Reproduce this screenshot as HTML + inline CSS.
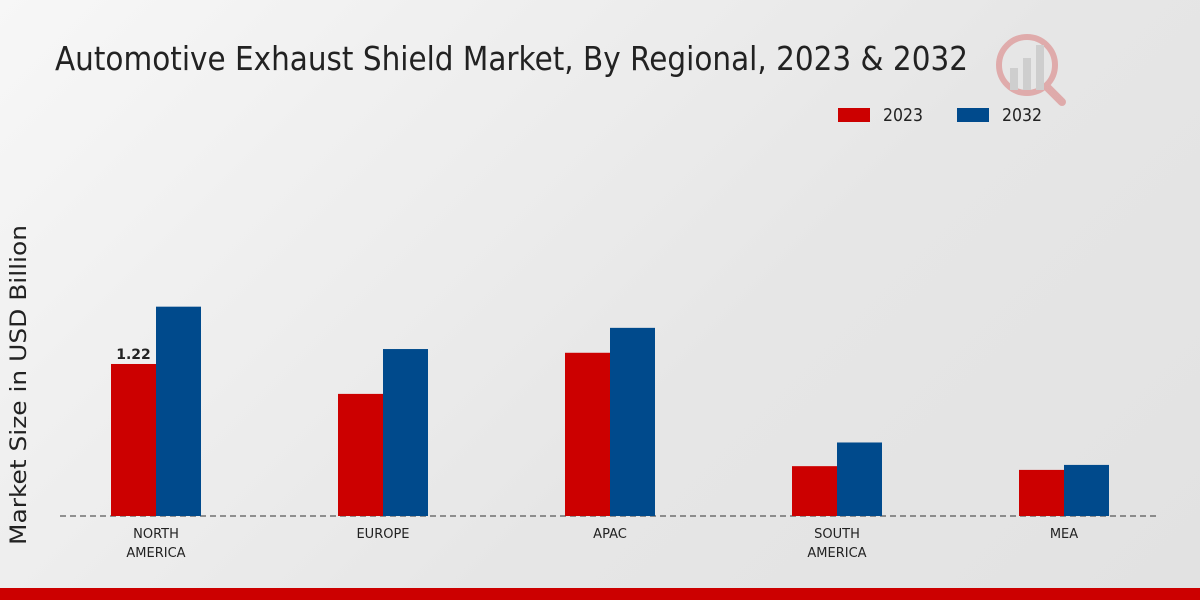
<!DOCTYPE html>
<html><head><meta charset="utf-8"><style>
html,body{margin:0;padding:0;width:1200px;height:600px;overflow:hidden}
body{background:linear-gradient(135deg,#f7f7f7 0%,#e6e6e6 60%,#e2e2e2 100%);font-family:"DejaVu Sans","Liberation Sans",sans-serif}
</style></head><body>
<svg width="1200" height="600" xmlns="http://www.w3.org/2000/svg">
<text x="55" y="70" font-size="33" fill="#222" textLength="913" lengthAdjust="spacingAndGlyphs">Automotive Exhaust Shield Market, By Regional, 2023 &amp; 2032</text>
<g opacity="0.25">
<circle cx="1027" cy="65" r="28" fill="none" stroke="#c00" stroke-width="6"/>
<rect x="1010" y="68" width="8" height="22" fill="#888"/><rect x="1023" y="58" width="8" height="32" fill="#888"/><rect x="1036" y="45" width="8" height="45" fill="#888"/>
<line x1="1048" y1="88" x2="1062" y2="102" stroke="#c00" stroke-width="8" stroke-linecap="round"/>
</g>
<g>
<rect x="838" y="108" width="32" height="14" fill="#cc0000"/>
<text x="883" y="121" font-size="18" fill="#222" textLength="40" lengthAdjust="spacingAndGlyphs">2023</text>
<rect x="957" y="108" width="32" height="14" fill="#004a8c"/>
<text x="1002" y="121" font-size="18" fill="#222" textLength="40" lengthAdjust="spacingAndGlyphs">2032</text>
</g>
<text transform="translate(26,385) rotate(-90)" text-anchor="middle" font-size="22" fill="#222" textLength="320" lengthAdjust="spacingAndGlyphs">Market Size in USD Billion</text>
<line x1="60" y1="516" x2="1160" y2="516" stroke="#333" stroke-dasharray="6,4"/>
<g id="bars"></g>
<rect x="0" y="588" width="1200" height="12" fill="#cc0000"/>
</svg>
<script>
const categories=[["NORTH","AMERICA"],["EUROPE"],["APAC"],["SOUTH","AMERICA"],["MEA"]];
const values2023=[1.22,0.98,1.31,0.40,0.37];
const values2032=[1.68,1.34,1.51,0.59,0.41];
const labelIndex=0;
const NS="http://www.w3.org/2000/svg";
const base=516, scale=124.6, x0=156, step=227, bw=45;
const y=v=>base-v*scale;
const g=document.getElementById('bars');
function mk(t,a){const e=document.createElementNS(NS,t);for(const k in a)e.setAttribute(k,a[k]);g.appendChild(e);return e;}
categories.forEach((c,i)=>{
 const cx=x0+i*step;
 const r=mk('rect',{x:cx-bw,y:y(values2023[i]),width:bw,height:values2023[i]*scale,fill:'#cc0000'});
 
 
 const b=mk('rect',{x:cx,y:y(values2032[i]),width:bw,height:values2032[i]*scale,fill:'#004a8c'});
 
 
 c.forEach((line,j)=>{
  const t=mk('text',{x:cx,y:538+j*19,'text-anchor':'middle','font-size':13,fill:'#222'});
  t.textContent=line;
  
  
 });
 if(i===labelIndex){
  const t=mk('text',{x:cx-bw/2,y:y(values2023[i])-5,'text-anchor':'middle','font-size':14,'font-weight':'bold',fill:'#222'});
  t.textContent=values2023[i].toFixed(2);
  
  
 }
});
</script>
</body></html>
